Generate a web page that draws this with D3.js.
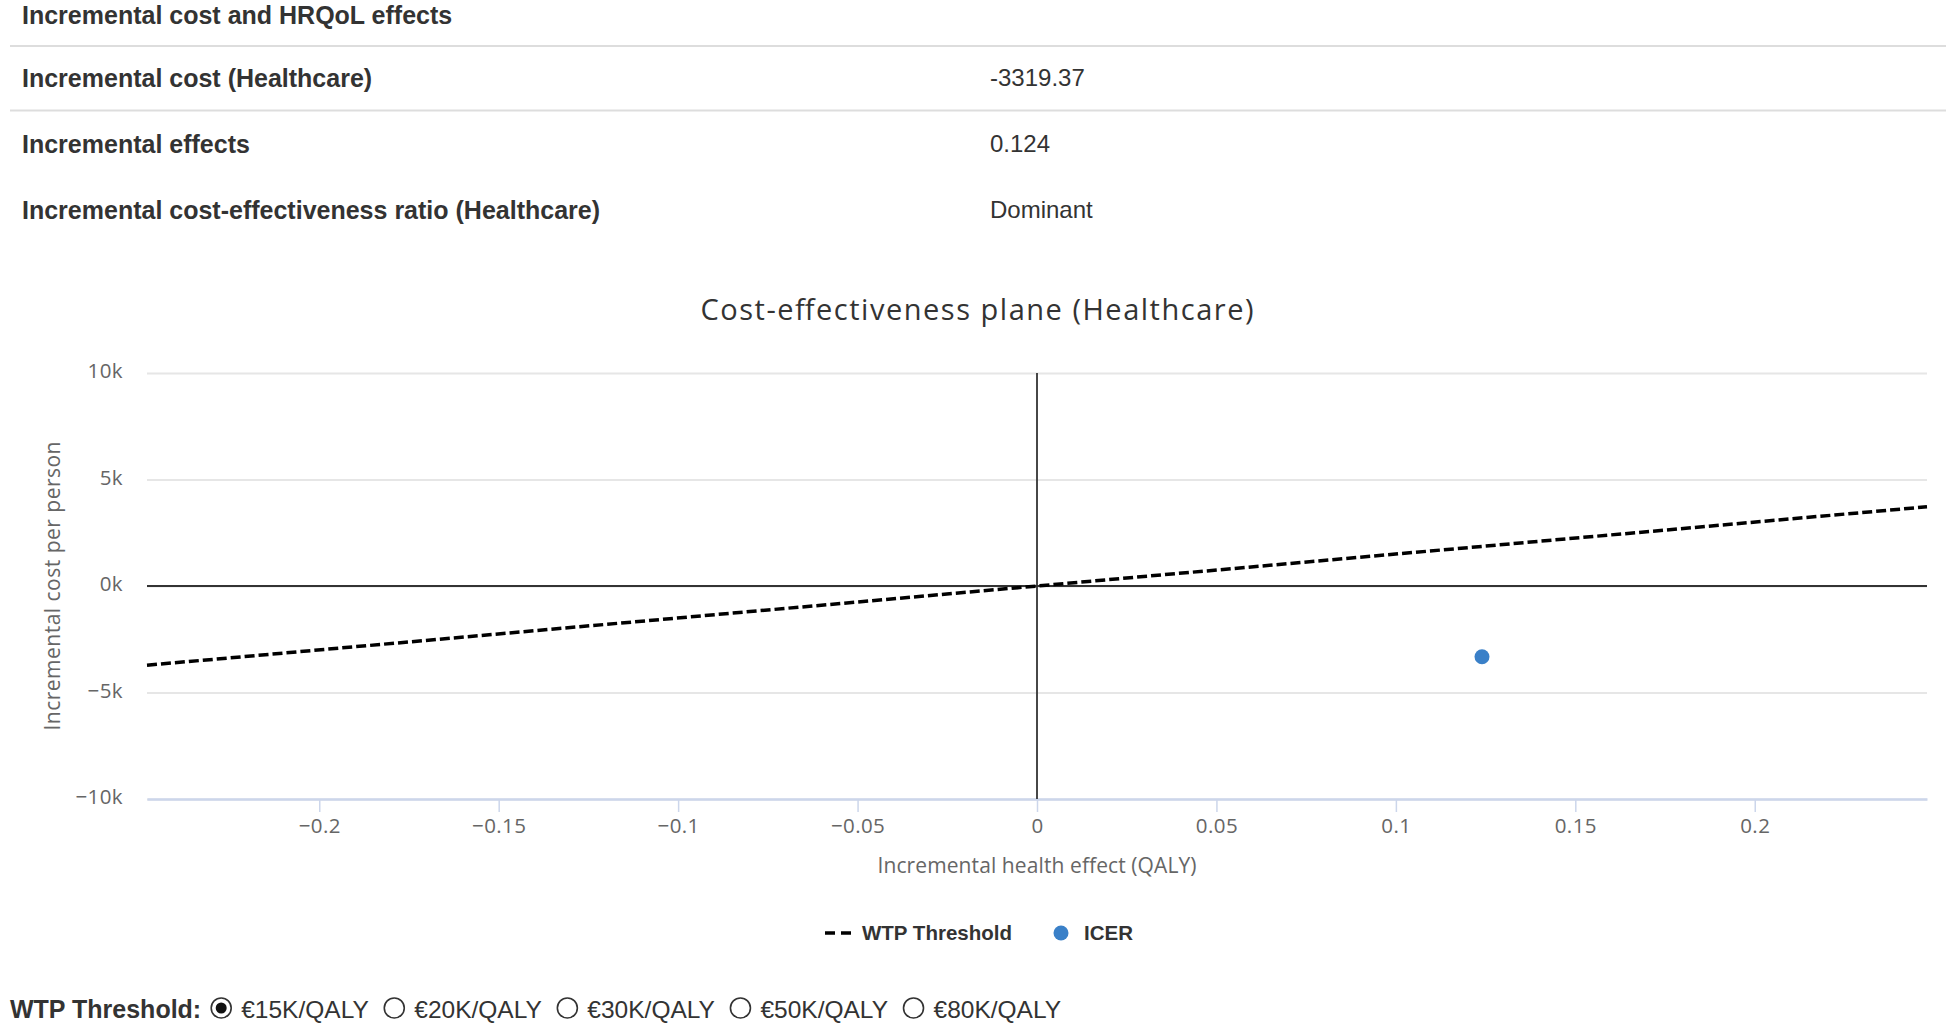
<!DOCTYPE html>
<html>
<head>
<meta charset="utf-8">
<script src="https://cdn.jsdelivr.net/npm/d3@7"></script>
<style>
  html, body { margin: 0; padding: 0; background: #fff; }
  svg { display: block; }
</style>
</head>
<body>
<svg id="page" width="1946" height="1025"></svg>
<script>
// ---------- data ----------
const tableHeader = "Incremental cost and HRQoL effects";
const tableLabels = ["Incremental cost (Healthcare)", "Incremental effects", "Incremental cost-effectiveness ratio (Healthcare)"];
const tableValues = ["-3319.37", "0.124", "Dominant"];

const chartTitle = "Cost-effectiveness plane (Healthcare)";
const xAxisTitle = "Incremental health effect (QALY)";
const yAxisTitle = "Incremental cost per person";

const xDomain = [-0.248, 0.248];
const yDomain = [-10000, 10000];
const xTicks = [-0.2, -0.15, -0.1, -0.05, 0, 0.05, 0.1, 0.15, 0.2];
const yTicks = [-10000, -5000, 0, 5000, 10000];

// WTP threshold line endpoints (effect, cost) at €15K/QALY
const wtpEffect = [-0.248, 0.248];
const wtpCost = [-3720, 3720];

// ICER point
const icerEffect = [0.124];
const icerCost = [-3319.37];

const legendNames = ["WTP Threshold", "ICER"];
const radioLabel = "WTP Threshold:";
const radioOptions = ["€15K/QALY", "€20K/QALY", "€30K/QALY", "€50K/QALY", "€80K/QALY"];
const radioSelected = 0;

// ---------- drawing ----------
const svg = d3.select("#page");
const tableFont = "'Liberation Sans', Arial, sans-serif";
const chartFont = "'Open Sans', 'DejaVu Sans', sans-serif";

// table
svg.append("text").attr("x", 22).attr("y", 15).attr("dy", "0.35em")
  .attr("font-family", tableFont).attr("font-size", 25).attr("font-weight", "bold")
  .attr("fill", "#333").text(tableHeader);
const rowY = [78, 144, 210];
[46, 110.5].forEach(yy => {
  svg.append("line").attr("x1", 10).attr("x2", 1946).attr("y1", yy).attr("y2", yy)
    .attr("stroke", "#dddddd").attr("stroke-width", 2);
});
tableLabels.forEach((t, i) => {
  svg.append("text").attr("x", 22).attr("y", rowY[i]).attr("dy", "0.35em")
    .attr("font-family", tableFont).attr("font-size", 25).attr("font-weight", "bold")
    .attr("fill", "#333").text(t);
  svg.append("text").attr("x", 990).attr("y", rowY[i]).attr("dy", "0.35em")
    .attr("font-family", tableFont).attr("font-size", 24)
    .attr("fill", "#333").text(tableValues[i]);
});

// chart
const plot = { left: 147, right: 1927, top: 373, bottom: 799 };
const x = d3.scaleLinear().domain(xDomain).range([plot.left, plot.right]);
const y = d3.scaleLinear().domain(yDomain).range([plot.bottom, plot.top]);

svg.append("text").attr("x", 977).attr("y", 310).attr("dy", "0.35em")
  .attr("text-anchor", "middle").attr("font-family", chartFont).attr("font-size", 29)
  .attr("textLength", 553).attr("lengthAdjust", "spacing")
  .attr("fill", "#333").text(chartTitle);

const fmtMinus = s => s.replace("-", "\u2212");

// gridlines
const grid = svg.append("g").attr("transform", `translate(${plot.left},0)`)
  .call(d3.axisLeft(y).tickValues(yTicks).tickSize(-(plot.right - plot.left)).tickFormat(""));
grid.select(".domain").remove();
grid.selectAll(".tick line").attr("stroke", "#e6e6e6").attr("stroke-width", 2);

// y labels
const yAx = svg.append("g").attr("transform", `translate(${plot.left},0)`)
  .call(d3.axisLeft(y).tickValues(yTicks).tickSize(0).tickPadding(24)
    .tickFormat(d => fmtMinus((d / 1000) + "k")));
yAx.select(".domain").remove();
yAx.selectAll(".tick text").attr("font-family", chartFont).attr("font-size", 20.5)
  .attr("letter-spacing", 0.4).attr("fill", "#666").attr("dy", "0.22em");

// x axis
const xAx = svg.append("g").attr("transform", `translate(0,${plot.bottom})`)
  .call(d3.axisBottom(x).tickValues(xTicks).tickSize(13).tickSizeOuter(0).tickPadding(6)
    .tickFormat(d => fmtMinus(String(d))));
xAx.select(".domain").attr("stroke", "#ccd6eb").attr("stroke-width", 2.5);
xAx.selectAll(".tick line").attr("stroke", "#ccd6eb").attr("stroke-width", 1.5);
xAx.selectAll(".tick text").attr("font-family", chartFont).attr("font-size", 20.5)
  .attr("letter-spacing", 0.4).attr("fill", "#666");

// zero lines
svg.append("line").attr("x1", plot.left).attr("x2", plot.right).attr("y1", y(0)).attr("y2", y(0))
  .attr("stroke", "#333").attr("stroke-width", 2);
svg.append("line").attr("x1", x(0)).attr("x2", x(0)).attr("y1", plot.top).attr("y2", plot.bottom)
  .attr("stroke", "#333").attr("stroke-width", 1.8);

// axis titles
svg.append("text").attr("x", x(0)).attr("y", 866).attr("dy", "0.35em").attr("text-anchor", "middle")
  .attr("font-family", chartFont).attr("font-size", 21)
  .attr("textLength", 319).attr("lengthAdjust", "spacing")
  .attr("fill", "#666").text(xAxisTitle);
svg.append("text").attr("transform", `translate(53,${(plot.top + plot.bottom) / 2}) rotate(-90)`)
  .attr("dy", "0.35em").attr("text-anchor", "middle")
  .attr("font-family", chartFont).attr("font-size", 21)
  .attr("textLength", 289).attr("lengthAdjust", "spacing")
  .attr("fill", "#666").text(yAxisTitle);

// WTP line
const wtpData = wtpEffect.map((e, i) => [e, wtpCost[i]]);
svg.append("path").datum(wtpData)
  .attr("d", d3.line().x(d => x(d[0])).y(d => y(d[1])))
  .attr("fill", "none").attr("stroke", "#000").attr("stroke-width", 3.5)
  .attr("stroke-dasharray", "10,4");

// ICER point
svg.selectAll("circle.icer").data(icerEffect.map((e, i) => [e, icerCost[i]])).enter()
  .append("circle").attr("class", "icer")
  .attr("cx", d => x(d[0])).attr("cy", d => y(d[1])).attr("r", 7.5)
  .attr("fill", "#3a80c8");

// legend
const legY = 933;
svg.append("line").attr("x1", 825).attr("x2", 851).attr("y1", legY).attr("y2", legY)
  .attr("stroke", "#000").attr("stroke-width", 3.5).attr("stroke-dasharray", "10,6");
svg.append("text").attr("x", 862).attr("y", legY).attr("dy", "0.35em")
  .attr("font-family", tableFont).attr("font-size", 20.5).attr("font-weight", "bold")
  .attr("fill", "#333").text(legendNames[0]);
svg.append("circle").attr("cx", 1061).attr("cy", legY).attr("r", 7.5).attr("fill", "#3a80c8");
svg.append("text").attr("x", 1084).attr("y", legY).attr("dy", "0.35em")
  .attr("font-family", tableFont).attr("font-size", 20.5).attr("font-weight", "bold")
  .attr("fill", "#333").text(legendNames[1]);

// radio row
const radY = 1009;
const lab = svg.append("text").attr("x", 10).attr("y", radY).attr("dy", "0.35em")
  .attr("font-family", tableFont).attr("font-size", 25).attr("font-weight", "bold")
  .attr("fill", "#333").text(radioLabel);
let cx = 10 + lab.node().getComputedTextLength() + 20;
radioOptions.forEach((opt, i) => {
  svg.append("circle").attr("cx", cx).attr("cy", radY - 1).attr("r", 10)
    .attr("fill", "#fff").attr("stroke", "#333").attr("stroke-width", 1.6);
  if (i === radioSelected) {
    svg.append("circle").attr("cx", cx).attr("cy", radY - 1).attr("r", 5.5).attr("fill", "#111");
  }
  const t = svg.append("text").attr("x", cx + 20).attr("y", radY).attr("dy", "0.35em")
    .attr("font-family", tableFont).attr("font-size", 24.5).attr("fill", "#333").text(opt);
  cx = cx + 20 + t.node().getComputedTextLength() + 25.5;
});
</script>
</body>
</html>
